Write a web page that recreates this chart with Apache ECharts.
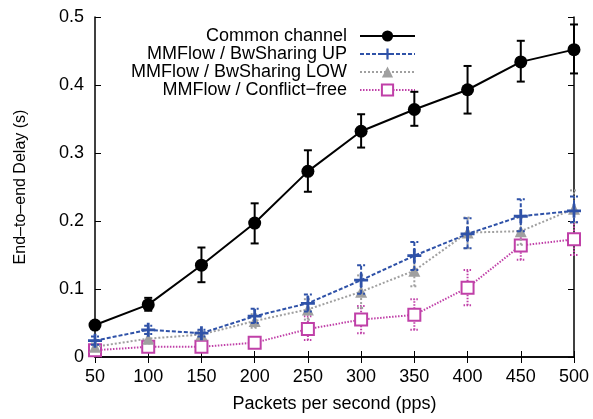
<!DOCTYPE html>
<html><head><meta charset="utf-8">
<script src="https://cdn.jsdelivr.net/npm/echarts@6/dist/echarts.min.js"></script>
<style>html,body{margin:0;padding:0;background:#fff}#c{width:593px;height:419px}</style>
</head><body><div id="c"></div>
<script>
const pps = [50,100,150,200,250,300,350,400,450,500];
const seriesNames = ['Common channel','MMFlow / BwSharing UP','MMFlow / BwSharing LOW','MMFlow / Conflict\u2212free'];
const commonMean = [0.047,0.077,0.135,0.197,0.273,0.332,0.364,0.393,0.434,0.452];
const commonLow  = [0.044,0.068,0.110,0.167,0.243,0.308,0.340,0.358,0.405,0.417];
const commonHigh = [0.050,0.087,0.161,0.226,0.304,0.357,0.390,0.428,0.465,0.489];
const upMean = [0.024,0.040,0.035,0.060,0.079,0.113,0.149,0.181,0.207,0.215];
const upLow  = [0.018,0.034,0.030,0.050,0.067,0.093,0.128,0.160,0.185,0.198];
const upHigh = [0.030,0.046,0.040,0.071,0.092,0.135,0.169,0.204,0.232,0.236];
const lowMean = [0.015,0.027,0.033,0.053,0.070,0.096,0.127,0.183,0.185,0.218];
const lowLow  = [0.010,0.020,0.028,0.043,0.055,0.072,0.104,0.160,0.165,0.198];
const lowHigh = [0.020,0.034,0.038,0.063,0.085,0.120,0.150,0.205,0.205,0.245];
const cfMean = [0.010,0.015,0.015,0.021,0.041,0.055,0.062,0.102,0.164,0.173];
const cfLow  = [0.005,0.010,0.010,0.015,0.025,0.035,0.040,0.076,0.143,0.150];
const cfHigh = [0.015,0.020,0.020,0.027,0.060,0.075,0.085,0.128,0.185,0.198];
const xTicks = [50,100,150,200,250,300,350,400,450,500];
const yTicks = [0,0.1,0.2,0.3,0.4,0.5];

const colors = ['#000000','#2f52a8','#a0a0a0','#c040a8'];
const dashes = ['solid',[4,2],[2,2],[1.5,1.5]];
const symbols = ['circle','path://M4,0L6,0L6,4L10,4L10,6L6,6L6,10L4,10L4,6L0,6L0,4L4,4Z','triangle','emptyRect'];
const sizes = [13,14,12,12];
const means = [commonMean, upMean, lowMean, cfMean];
const lows = [commonLow, upLow, lowLow, cfLow];
const highs = [commonHigh, upHigh, lowHigh, cfHigh];

const series = [];
for (let k = 3; k >= 0; k--) {
  series.push({
    type: 'custom', name: seriesNames[k] + ' err', z: 2 + (3-k)*2,
    data: pps.map((x,i) => [x, lows[k][i], highs[k][i]]),
    renderItem: function(params, api) {
      const x = api.value(0);
      const lo = api.coord([x, api.value(1)]);
      const hi = api.coord([x, api.value(2)]);
      const st = {stroke: colors[k], lineWidth: 2, lineDash: k === 0 ? null : dashes[k]};
      return {type:'group', children:[
        {type:'line', shape:{x1:lo[0],y1:lo[1],x2:hi[0],y2:hi[1]}, style:st},
        {type:'line', shape:{x1:lo[0]-4,y1:lo[1],x2:lo[0]+4,y2:lo[1]}, style:st},
        {type:'line', shape:{x1:hi[0]-4,y1:hi[1],x2:hi[0]+4,y2:hi[1]}, style:st}
      ]};
    }
  });
  series.push({
    type: 'line', name: seriesNames[k], z: 3 + (3-k)*2,
    data: pps.map((x,i) => [x, means[k][i]]),
    symbol: symbols[k], symbolSize: sizes[k], showAllSymbol: true,
    lineStyle: {color: colors[k], width: 2, type: dashes[k]},
    itemStyle: {color: colors[k], borderColor: colors[k], borderWidth: k===3 ? 2 : 0},
    animation: false
  });
}

const fam = 'Liberation Sans, Arial, sans-serif';
const tickFont = {fontFamily: fam, fontSize: 18, color: '#000'};
const chart = echarts.init(document.getElementById('c'));
chart.setOption({
  animation: false,
  grid: {left: 95, right: 19, top: 17, bottom: 62},
  legend: {
    data: seriesNames, orient: 'vertical', align: 'right',
    right: 172, top: 22, itemWidth: 55, itemHeight: 14, itemGap: 0,
    textStyle: {fontFamily: fam, fontSize: 18, lineHeight: 18, color: '#000', padding: [0, 8, 0, 0]}
  },
  xAxis: [{
    type: 'value', min: 50, max: 500, interval: 50,
    name: 'Packets per second (pps)', nameLocation: 'middle', nameGap: 38,
    nameTextStyle: {fontFamily: fam, fontSize: 18, color: '#000'},
    axisLine: {show: true, lineStyle: {color: '#000', width: 1.5}},
    axisTick: {inside: true, length: 6, lineStyle: {color: '#000'}},
    axisLabel: Object.assign({margin: 11}, tickFont),
    splitLine: {show: false}
  },{
    type: 'value', min: 50, max: 500, interval: 50, position: 'top',
    axisLine: {show: true, lineStyle: {color: '#000', width: 1.5}},
    axisTick: {inside: true, length: 6, lineStyle: {color: '#000'}},
    axisLabel: {show: false}, splitLine: {show: false}
  }],
  yAxis: [{
    type: 'value', min: 0, max: 0.5, interval: 0.1,
    name: 'End\u2013to\u2013end Delay (s)', nameLocation: 'middle', nameGap: 66,
    nameTextStyle: {fontFamily: fam, fontSize: 16, color: '#000'},
    axisLine: {show: true, lineStyle: {color: '#000', width: 1.5}},
    axisTick: {inside: true, length: 6, lineStyle: {color: '#000'}},
    axisLabel: Object.assign({margin: 11, formatter: v => String(Math.round(v*10)/10)}, tickFont),
    splitLine: {show: false}
  },{
    type: 'value', min: 0, max: 0.5, interval: 0.1, position: 'right',
    axisLine: {show: true, lineStyle: {color: '#000', width: 1.5}},
    axisTick: {inside: true, length: 6, lineStyle: {color: '#000'}},
    axisLabel: {show: false}, splitLine: {show: false}
  }],
  series: series
});
</script></body></html>
